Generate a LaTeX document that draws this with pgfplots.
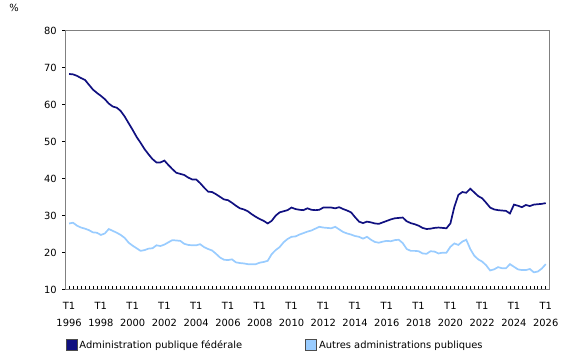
\documentclass[border=0pt]{standalone}
\usepackage{pgfplots}
\pgfplotsset{compat=1.18}
\usepackage{fontspec}
\setmainfont{DejaVu Sans}
\definecolor{fedc}{RGB}{16,16,128}
\definecolor{autc}{RGB}{153,204,255}
\definecolor{axc}{RGB}{128,128,128}
\begin{document}
\fontsize{9.9bp}{11bp}\selectfont
\begin{tikzpicture}
\path[use as bounding box] (-65.7bp,-70.3bp) rectangle (514.3bp,289.7bp);
\begin{axis}[
  at={(0,0)}, anchor=south west,
  scale only axis, width=483.6bp, height=259bp,
  xmin=-0.85, xmax=120.9, ymin=10, ymax=80,
  ytick={10,20,...,80},
  xtick={0,8,...,120},
  minor xtick={0,...,120},
  xticklabels={T1\\1996,T1\\1998,T1\\2000,T1\\2002,T1\\2004,T1\\2006,T1\\2008,T1\\2010,T1\\2012,T1\\2014,T1\\2016,T1\\2018,T1\\2020,T1\\2022,T1\\2024,T1\\2026},
  xticklabel style={align=center, font=\fontsize{9.9bp}{17bp}\selectfont, yshift=-9bp},
  yticklabel style={font=\fontsize{9.9bp}{11bp}\selectfont, xshift=-2bp},
  /pgf/number format/assume math mode=true,
  xtick align=inside, ytick align=outside,
  xtick pos=bottom, ytick pos=left,
  major tick length=3.5bp, minor tick length=3.5bp,
  tick style={black, line width=0.6bp},
  axis line style={axc, line width=1.3bp},
  legend columns=2,
  legend style={at={(0,-0.2135)}, anchor=west, draw=none, fill=none,
    font=\fontsize{9.9bp}{11bp}\selectfont, inner sep=0pt,
    /tikz/every even column/.append style={column sep=0bp}},
  legend cell align=left,
  clip=false,
]
\addplot[fedc, line width=1.7bp, forget plot] coordinates {
(0,68.3)(1,68.2)(2,67.8)(3,67.2)(4,66.7)(5,65.4)(6,64.1)(7,63.2)(8,62.4)(9,61.5)
(10,60.3)(11,59.5)(12,59.2)(13,58.3)(14,56.8)(15,55.0)(16,53.2)(17,51.3)(18,49.7)(19,48.0)
(20,46.6)(21,45.3)(22,44.4)(23,44.4)(24,44.9)(25,43.7)(26,42.6)(27,41.6)(28,41.3)(29,41.0)
(30,40.3)(31,39.8)(32,39.8)(33,38.8)(34,37.6)(35,36.5)(36,36.4)(37,35.8)(38,35.1)(39,34.4)
(40,34.2)(41,33.5)(42,32.7)(43,32.0)(44,31.7)(45,31.2)(46,30.4)(47,29.7)(48,29.1)(49,28.6)
(50,27.9)(51,28.6)(52,30.0)(53,30.9)(54,31.2)(55,31.5)(56,32.2)(57,31.8)(58,31.6)(59,31.5)
(60,32.0)(61,31.6)(62,31.5)(63,31.6)(64,32.2)(65,32.2)(66,32.2)(67,32.0)(68,32.3)(69,31.8)
(70,31.4)(71,30.9)(72,29.6)(73,28.4)(74,28.0)(75,28.4)(76,28.2)(77,27.9)(78,27.8)(79,28.2)
(80,28.6)(81,29.0)(82,29.3)(83,29.4)(84,29.5)(85,28.5)(86,28.0)(87,27.7)(88,27.3)(89,26.7)
(90,26.4)(91,26.5)(92,26.7)(93,26.8)(94,26.7)(95,26.6)(96,27.9)(97,32.4)(98,35.6)(99,36.4)
(100,36.2)(101,37.3)(102,36.3)(103,35.3)(104,34.7)(105,33.5)(106,32.2)(107,31.7)(108,31.5)(109,31.4)
(110,31.3)(111,30.6)(112,33.0)(113,32.7)(114,32.3)(115,32.9)(116,32.6)(117,33.0)(118,33.1)(119,33.2)
(120,33.4)};
\addplot[autc, line width=1.7bp, forget plot] coordinates {
(0,27.9)(1,28.1)(2,27.3)(3,26.8)(4,26.5)(5,26.1)(6,25.5)(7,25.4)(8,24.8)(9,25.2)
(10,26.4)(11,25.9)(12,25.4)(13,24.8)(14,24.0)(15,22.7)(16,21.9)(17,21.2)(18,20.5)(19,20.7)
(20,21.1)(21,21.2)(22,22.0)(23,21.8)(24,22.2)(25,22.8)(26,23.4)(27,23.3)(28,23.2)(29,22.4)
(30,22.1)(31,22.0)(32,22.0)(33,22.3)(34,21.5)(35,21.0)(36,20.6)(37,19.7)(38,18.7)(39,18.1)
(40,18.0)(41,18.2)(42,17.4)(43,17.2)(44,17.1)(45,16.9)(46,16.9)(47,16.9)(48,17.3)(49,17.5)
(50,17.8)(51,19.6)(52,20.7)(53,21.5)(54,22.8)(55,23.7)(56,24.3)(57,24.4)(58,24.9)(59,25.3)
(60,25.7)(61,26.0)(62,26.5)(63,27.0)(64,26.8)(65,26.7)(66,26.6)(67,27.0)(68,26.3)(69,25.6)
(70,25.2)(71,24.9)(72,24.5)(73,24.3)(74,23.8)(75,24.3)(76,23.5)(77,22.9)(78,22.7)(79,23.0)
(80,23.2)(81,23.1)(82,23.4)(83,23.5)(84,22.6)(85,21.0)(86,20.5)(87,20.5)(88,20.4)(89,19.8)
(90,19.7)(91,20.4)(92,20.3)(93,19.8)(94,20.0)(95,20.0)(96,21.6)(97,22.5)(98,22.1)(99,23.0)
(100,23.5)(101,21.0)(102,19.2)(103,18.2)(104,17.6)(105,16.6)(106,15.2)(107,15.5)(108,16.1)(109,15.8)
(110,15.8)(111,16.9)(112,16.2)(113,15.5)(114,15.3)(115,15.3)(116,15.6)(117,14.7)(118,14.9)(119,15.7)
(120,16.9)};
\addlegendimage{legend image code/.code={\draw[fill=fedc, draw=black!70, line width=0.6bp] (0bp,-5.5bp) rectangle (11bp,5.5bp);}}
\addlegendentry{\makebox[224bp][l]{Administration publique fédérale}}
\addlegendimage{legend image code/.code={\draw[fill=autc, draw=black!70, line width=0.6bp] (0bp,-5.5bp) rectangle (11bp,5.5bp);}}
\addlegendentry{Autres administrations publiques}
\node at (rel axis cs:-0.107,1.088) {\%};
\end{axis}
\end{tikzpicture}
\end{document}
